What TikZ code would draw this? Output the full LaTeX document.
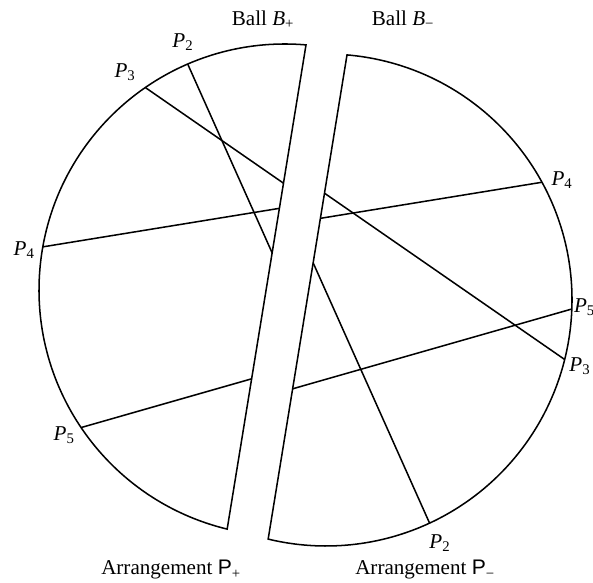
\documentclass[tikz,border=0pt]{standalone}
\usepackage{fontspec}
\setmainfont{Liberation Serif}
\setsansfont{Liberation Sans}
\usepackage{tikz}
\usetikzlibrary{calc}
\definecolor{mydark}{RGB}{0,0,0}
\newcommand{\Pnt}[1]{\textit{P}\textsubscript{#1}}
\def\R{7.38}
\tikzset{
  piece/.style={line width=1.3pt, color=mydark, line join=miter},
  chord/.style={line width=1.3pt, color=mydark},
  plabel/.style={font=\fontsize{18}{21}\selectfont, inner sep=1pt},
  title/.style={font=\fontsize{18}{21}\selectfont, inner sep=1pt}
}

\begin{document}
\begin{tikzpicture}
  \useasboundingbox (-8.55,-8.76) rectangle (9.24,8.70);

  % left half, ball B+
  \begin{scope}
    \begin{scope}
      \clip (85.1:\R) arc[start angle=85.1, end angle=256.4, radius=\R] -- cycle;
      \foreach \a/\b in {113.3/-65.1, 124.6/-14.0, 169.9/28.6, 214/-2.1}
        \draw[chord] (\a:\R) -- (\b:\R);
    \end{scope}
    \draw[piece] (85.1:\R) arc[start angle=85.1, end angle=256.4, radius=\R] -- cycle;
    \node[plabel] (lp2) at (112.4:8.04) {\Pnt{2}};
    \node[plabel] (lp3) at (126.3:8.11) {\Pnt{3}};
    \node[plabel] (lp4) at (171.3:7.92) {\Pnt{4}};
    \node[plabel] (lp5) at (213.3:7.93) {\Pnt{5}};
  \end{scope}

  % right half, ball B-
  \begin{scope}[shift={(1.23,-0.30)}]
    \begin{scope}
      \clip (85.1:\R) arc[start angle=85.1, end angle=-103.6, radius=\R] -- cycle;
      \foreach \a/\b in {113.3/-65.1, 124.6/-14.0, 169.9/28.6, 214/-2.1}
        \draw[chord] (\a:\R) -- (\b:\R);
    \end{scope}
    \draw[piece] (85.1:\R) arc[start angle=85.1, end angle=-103.6, radius=\R] -- cycle;
    \node[plabel] (rp2) at (-64.9:8.05) {\Pnt{2}};
    \node[plabel] (rp3) at (-14.6:7.87) {\Pnt{3}};
    \node[plabel] (rp4) at (26.9:7.94) {\Pnt{4}};
    \node[plabel, anchor=west, inner sep=0.5pt] (rp5) at (-1.6:7.42) {\Pnt{5}};
  \end{scope}

  \node[title] (ballp) at (-0.66,8.10) {Ball \textit{B}\textsubscript{+}};
  \node[title] (ballm) at (3.54,8.10) {Ball \textit{B}\textsubscript{−}};
  \node[title] (arrp) at (-3.42,-8.40) {Arrangement \textsf{P}\textsubscript{+}};
  \node[title] (arrm) at (4.20,-8.40) {Arrangement \textsf{P}\textsubscript{−}};
\end{tikzpicture}
\end{document}
